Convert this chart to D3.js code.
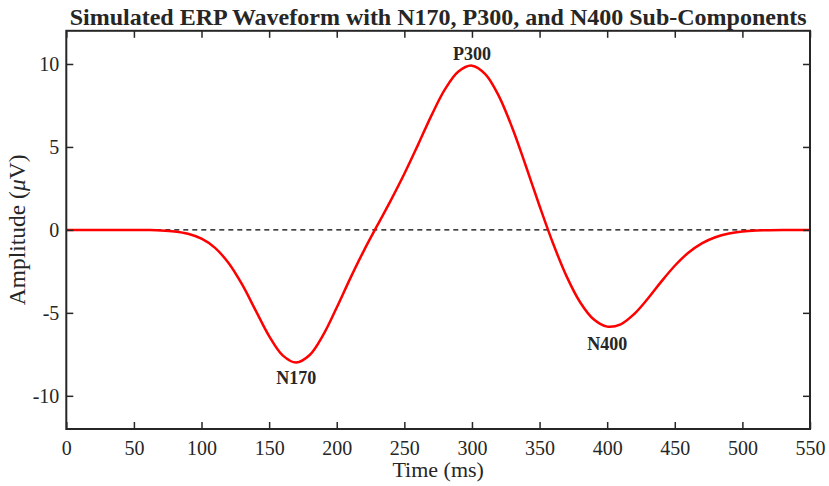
<!DOCTYPE html>
<html>
<head>
<meta charset="utf-8">
<script src="https://cdn.jsdelivr.net/npm/d3@7"></script>
<style>
  html, body { margin: 0; padding: 0; background: #ffffff; }
  svg { display: block; }
  text { font-family: "Liberation Serif", "Times New Roman", serif; fill: #262626; }
</style>
</head>
<body>
<svg id="chart" width="829" height="486"></svg>
<script>
// ---- data ----
const timeMs = [0,10,20,30,40,50,60,70,80,90,100,110,120,130,140,150,160,170,180,190,200,
  210,220,230,240,250,260,270,280,290,300,310,320,330,340,350,360,370,380,390,400,
  410,420,430,440,450,460,470,480,490,500,510,520,530,540,550];
const amplitude = [0,0,0,0,0,-0.003,-0.01,-0.03,-0.09,-0.23,-0.53,-1.08,-2.0,-3.29,-4.85,-6.40,-7.56,-7.99,-7.54,-6.33,-4.68,
  -2.92,-1.26,0.27,1.78,3.38,5.11,6.89,8.47,9.55,9.90,9.38,8.05,6.11,3.82,1.44,-0.82,-2.80,-4.36,-5.39,-5.83,
  -5.69,-5.07,-4.15,-3.12,-2.16,-1.38,-0.81,-0.44,-0.22,-0.10,-0.04,-0.02,-0.006,-0.002,0];
const xTicks = [0,50,100,150,200,250,300,350,400,450,500,550];
const yTicks = [-10,-5,0,5,10];
const peakNames = ["N170","P300","N400"];
const peakTimes = [170,300,400];
const peakLabelY = [-8.9,10.6,-6.85];

const titleText = "Simulated ERP Waveform with N170, P300, and N400 Sub-Components";
const xLabel = "Time (ms)";

// ---- layout ----
const svg = d3.select("#chart");
const L = 66.3, R = 810, T = 30.8, B = 429;
const x = d3.scaleLinear().domain([0,550]).range([L,R]);
const y = d3.scaleLinear().domain([-12,12]).range([B,T]);
const axisColor = "#262626";
const fmt = d => String(d);

// zero reference line (dashed)
svg.append("line")
  .attr("x1", x(0)).attr("x2", x(550))
  .attr("y1", y(0)).attr("y2", y(0))
  .attr("stroke", "#000").attr("stroke-width", 1.3)
  .attr("stroke-dasharray", "5,4");

// waveform
const pts = timeMs.map((t,i)=>[t, amplitude[i]]);
svg.append("path")
  .datum(pts)
  .attr("fill","none")
  .attr("stroke","#ff0000")
  .attr("stroke-width",2.5)
  .attr("stroke-linejoin","round")
  .attr("d", d3.line().x(d=>x(d[0])).y(d=>y(d[1])).curve(d3.curveCatmullRom.alpha(0.5)));

// axes
function styleAxis(g){
  g.attr("font-family", null).attr("font-size", null);
  g.select(".domain").remove();
  g.selectAll(".tick line").attr("stroke", axisColor).attr("stroke-width", 1.5);
  g.selectAll(".tick text").attr("fill", axisColor)
    .style("font-family", '"Liberation Serif", "Times New Roman", serif')
    .style("font-size", "20px");
}
svg.append("g").attr("transform",`translate(0,${B})`)
  .call(d3.axisBottom(x).tickValues(xTicks).tickSize(-7).tickPadding(12).tickFormat(fmt))
  .call(styleAxis);
svg.append("g").attr("transform",`translate(0,${T})`)
  .call(d3.axisTop(x).tickValues(xTicks).tickSize(-7).tickFormat(""))
  .call(styleAxis);
svg.append("g").attr("transform",`translate(${L},0)`)
  .call(d3.axisLeft(y).tickValues(yTicks).tickSize(-7).tickPadding(7).tickFormat(fmt))
  .call(styleAxis);
svg.append("g").attr("transform",`translate(${R},0)`)
  .call(d3.axisRight(y).tickValues(yTicks).tickSize(-7).tickFormat(""))
  .call(styleAxis);

// box
svg.append("rect")
  .attr("x", L).attr("y", T).attr("width", R-L).attr("height", B-T)
  .attr("fill","none").attr("stroke", axisColor).attr("stroke-width", 2);

// peak labels
svg.selectAll("text.peak").data(peakNames).enter().append("text")
  .attr("class","peak")
  .attr("x",(d,i)=>x(peakTimes[i]))
  .attr("y",(d,i)=>y(peakLabelY[i]))
  .attr("dy","0.35em")
  .attr("text-anchor","middle")
  .style("font-size","18px").style("font-weight","bold")
  .text(d=>d);

// title
svg.append("text")
  .attr("x",(L+R)/2).attr("y",25)
  .attr("text-anchor","middle")
  .style("font-size","24px").style("font-weight","bold")
  .text(titleText);

// x label
svg.append("text")
  .attr("x",(L+R)/2).attr("y",477)
  .attr("text-anchor","middle")
  .style("font-size","22px")
  .text(xLabel);

// y label
const yl = svg.append("text")
  .attr("transform",`translate(25,${(T+B)/2}) rotate(-90)`)
  .attr("text-anchor","middle")
  .style("font-size","23.5px");
yl.append("tspan").text("Amplitude (");
yl.append("tspan").style("font-style","italic").text("μ");
yl.append("tspan").text("V)");
</script>
</body>
</html>
